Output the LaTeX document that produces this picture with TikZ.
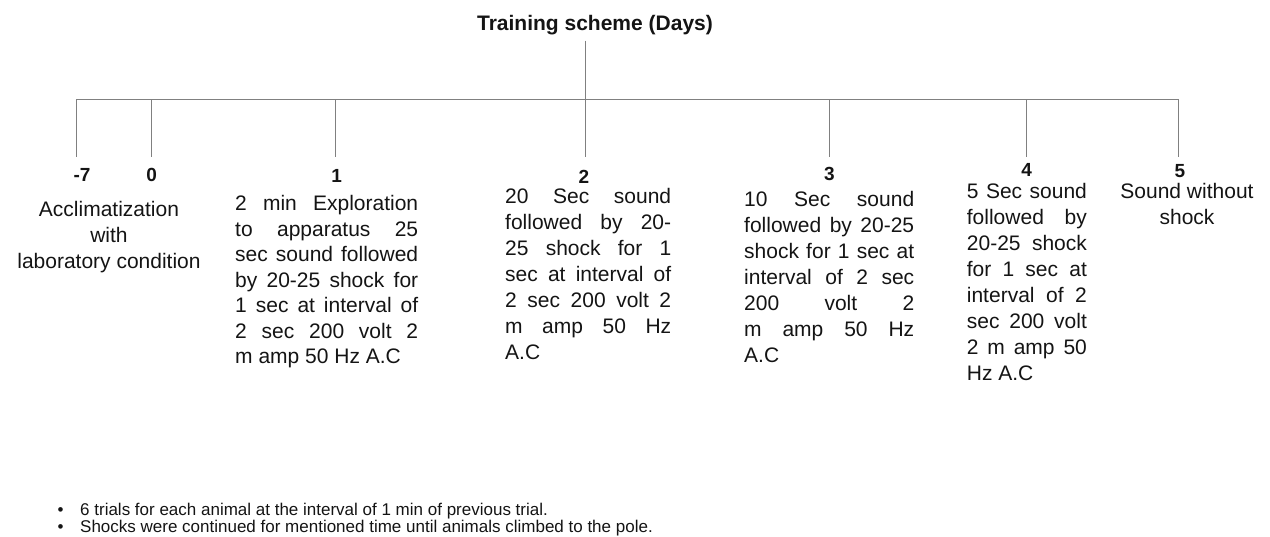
\documentclass[tikz,border=0pt]{standalone}
\usepackage{fontspec}
\setmainfont{Liberation Sans}
\definecolor{linegray}{RGB}{128,128,128}
\definecolor{textblack}{RGB}{20,20,20}
\tolerance=10000
\pretolerance=-1
\hbadness=10000
\begin{document}
\begin{tikzpicture}[x=1pt,y=-1pt,
  conn/.style={draw=linegray, line width=1.3pt},
  body/.style={font=\fontsize{21}{26}\selectfont, text=textblack, inner sep=0pt, anchor=base west, align=justify},
  ctext/.style={font=\fontsize{21}{26}\selectfont, text=textblack, inner sep=0pt, anchor=base, align=center},
  num/.style={font=\fontsize{19}{22}\selectfont\bfseries, text=textblack, inner sep=0pt, anchor=base},
  note/.style={font=\fontsize{17}{18}\selectfont, text=textblack, inner sep=0pt, anchor=base west}]
\useasboundingbox (0,0) rectangle (1270,536);

% title
\node[font=\fontsize{21}{24}\selectfont\bfseries, text=textblack, inner sep=0pt, anchor=base] (title) at (595,30.7) {Training scheme (Days)};

% tree coordinates
\coordinate (t0) at (585.7,40.7);
\coordinate (bl) at (76.7,99.3);
\coordinate (br) at (1178.3,99.3);
\coordinate (a1) at (76.7,99.3);   \coordinate (e1) at (76.7,157);
\coordinate (a2) at (151.7,99.3);  \coordinate (e2) at (151.7,157);
\coordinate (a3) at (335.7,99.3);  \coordinate (e3) at (335.7,157);
\coordinate (a4) at (585.7,99.3);  \coordinate (e4) at (585.7,157);
\coordinate (a5) at (829.3,99.3);  \coordinate (e5) at (829.3,157);
\coordinate (a6) at (1026.7,99.3); \coordinate (e6) at (1026.7,157);
\coordinate (a7) at (1178.3,99.3); \coordinate (e7) at (1178.3,157);

\draw[conn] (t0) -- (a4);
\draw[conn] (bl) -- (br);
\foreach \i in {1,...,7} {\draw[conn] (a\i) -- (e\i);}

% day numbers
\node[num] (nm7) at (82,181.7) {-7};
\node[num] (n0) at (151.7,181.7) {0};
\node[num] (n1) at (336.7,182.7) {1};
\node[num] (n2) at (584,183.3) {2};
\node[num] (n3) at (829.3,180) {3};
\node[num] (n4) at (1026.7,176.7) {4};
\node[num] (n5) at (1180,177.7) {5};

% descriptions (centred nodes: base = last line)
\node[ctext] (acc) at (109,268) {Acclimatization\\with\\laboratory condition};

\node[body, text width=183pt, font=\fontsize{21}{25.5}\selectfont] (b1) at (235,210.7)
 {2 min Exploration\linebreak to apparatus 25\linebreak sec sound followed\linebreak by 20-25 shock for\linebreak 1 sec at interval of\linebreak 2 sec 200 volt 2\linebreak m amp 50 Hz A.C};

\node[body, text width=166pt] (b2) at (505,203.3)
 {20 Sec sound\linebreak followed by 20-\linebreak 25 shock for 1\linebreak sec at interval of\linebreak 2 sec 200 volt 2\linebreak m amp 50 Hz\linebreak A.C};

\node[body, text width=170pt] (b3) at (744,206.7)
 {10 Sec sound\linebreak followed by 20-25\linebreak shock for 1 sec at\linebreak interval of 2 sec\linebreak 200 volt 2\linebreak m amp 50 Hz\linebreak A.C};

\node[body, text width=120pt] (b4) at (966.7,198.3)
 {5 Sec sound\linebreak followed by\linebreak 20-25 shock\linebreak for 1 sec at\linebreak interval of 2\linebreak sec 200 volt\linebreak 2 m amp 50\linebreak Hz A.C};

\node[ctext] (b5) at (1187,224) {Sound without\\shock};

% notes
\node[note] (note1) at (57.5,515) {\makebox[22.5pt][l]{•}6 trials for each animal at the interval of 1 min of previous trial.};
\node[note] (note2) at (57.5,532.7) {\makebox[22.5pt][l]{•}Shocks were continued for mentioned time until animals climbed to the pole.};
\end{tikzpicture}
\end{document}
